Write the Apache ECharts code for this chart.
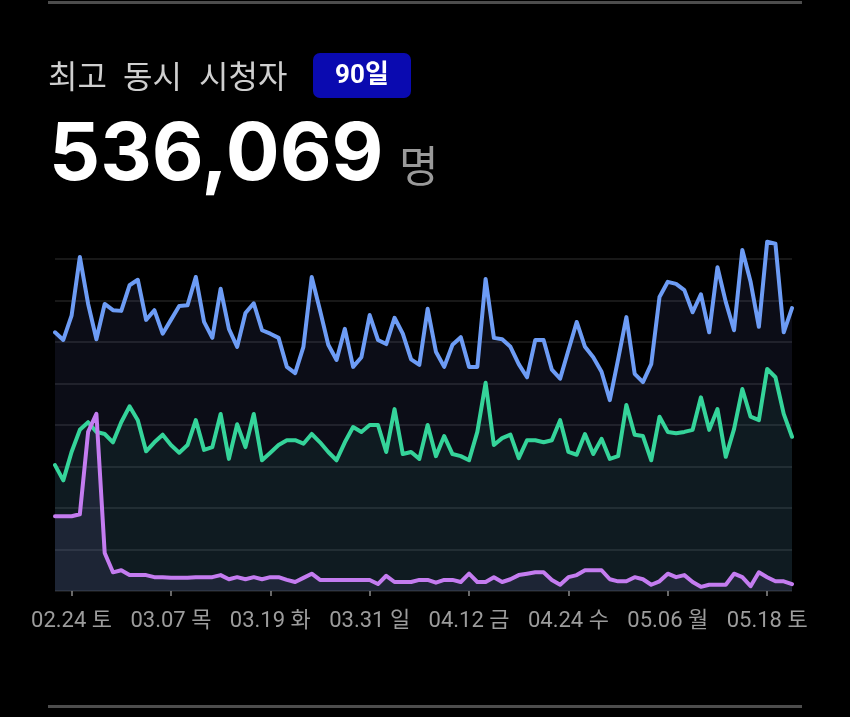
<!DOCTYPE html>
<html>
<head>
<meta charset="utf-8">
<script src="https://cdn.jsdelivr.net/npm/echarts@6/dist/echarts.min.js"></script>
<style>
  html, body { margin: 0; padding: 0; background: #000; }
  #chart { width: 850px; height: 717px; }
</style>
</head>
<body>
<div id="chart"></div>
<script>
// 90 days, 2024-02-22 .. 2024-05-21 (thousand viewers)
const startDate = new Date(2024, 1, 22);
const dayCount = 90;
const weekdays = ['일', '월', '화', '수', '목', '금', '토'];

const blueValues = [374,363,398,483,415,364,415,406,405,442,
  450,392,406,372,392,412,413,454,389,366,
  437,379,353,402,416,377,372,366,324,315,
  353,454,406,356,334,379,324,338,399,363,
  357,395,372,335,327,408,346,324,356,367,
  324,324,451,366,364,353,328,309,363,363,
  320,307,348,389,353,338,317,276,335,396,
  314,302,328,425,447,444,435,403,429,374,
  468,418,377,493,447,382,505,502,374,409];

const greenValues = [182,160,201,233,244,230,227,215,244,267,
  247,202,215,226,211,200,211,247,204,208,
  256,191,241,208,256,189,200,211,218,218,
  213,227,215,201,189,215,237,230,240,240,
  201,263,198,201,191,240,195,224,198,195,
  189,230,301,211,221,226,192,218,218,215,
  218,247,201,197,227,198,220,191,195,269,
  226,224,189,252,230,228,230,233,280,233,
  263,194,234,292,252,247,321,309,256,223];

const purpleValues = [108,108,108,111,230,256,55,27,30,23,
  23,23,20,20,19,19,19,20,20,20,
  23,17,20,17,20,17,20,20,16,13,
  19,25,16,16,16,16,16,16,16,10,
  22,13,13,13,16,16,12,16,16,13,
  25,13,13,20,13,17,23,25,27,27,
  16,9,20,23,30,30,30,17,14,14,
  20,17,9,14,25,20,23,13,6,9,
  9,9,25,20,7,27,20,14,14,10];

// category labels like "02.24 토"
const categories = [];
for (let i = 0; i < dayCount; i++) {
  const d = new Date(startDate.getTime());
  d.setDate(d.getDate() + i);
  const mm = String(d.getMonth() + 1).padStart(2, '0');
  const dd = String(d.getDate()).padStart(2, '0');
  categories.push(mm + '.' + dd + ' ' + weekdays[d.getDay()]);
}

const labelEvery = 12;
const labelOffset = 2; // first label is 02.24
const showLabel = function (index) {
  return index % labelEvery === labelOffset;
};

const uiFont = 'Roboto, "Noto Sans CJK KR", sans-serif';
const krFont = '"Noto Sans CJK KR", sans-serif';

function lineSeries(name, values, lineColor, fillColor) {
  return {
    name: name,
    type: 'line',
    data: values,
    showSymbol: false,
    clip: false,
    lineStyle: { color: lineColor, width: 4, join: 'round', cap: 'round' },
    itemStyle: { color: lineColor },
    areaStyle: { color: fillColor, origin: 'start' },
    animation: false
  };
}

const chart = echarts.init(document.getElementById('chart'));
chart.setOption({
  backgroundColor: '#000',
  grid: { left: 55, right: 58, top: 259, bottom: 126 },
  xAxis: {
    type: 'category',
    data: categories,
    boundaryGap: false,
    axisLine: { show: false },
    axisTick: {
      show: true,
      interval: function (i) { return showLabel(i); },
      length: 5,
      lineStyle: { color: '#8a8a8a', width: 1.5 }
    },
    axisLabel: {
      interval: function (i) { return showLabel(i); },
      color: '#9c9c9c',
      fontSize: 22,
      fontFamily: uiFont,
      margin: 19
    },
    splitLine: { show: false }
  },
  yAxis: {
    type: 'value',
    min: 0,
    max: 480,
    interval: 60,
    axisLabel: { show: false },
    axisLine: { show: false },
    axisTick: { show: false },
    splitLine: { lineStyle: { color: 'rgba(255,255,255,0.13)', width: 1.5 } }
  },
  series: [
    lineSeries('blue', blueValues, '#6d9cf5', 'rgba(95,105,185,0.18)'),
    lineSeries('green', greenValues, '#35d49a', 'rgba(52,211,170,0.10)'),
    lineSeries('purple', purpleValues, '#c47cf0', 'rgba(175,140,255,0.13)')
  ],
  graphic: [
    // separators top and bottom
    { type: 'rect', shape: { x: 48, y: 1, width: 754, height: 3 }, style: { fill: '#4d4d4d' } },
    { type: 'rect', shape: { x: 48, y: 705, width: 754, height: 3 }, style: { fill: '#4d4d4d' } },
    // header
    { type: 'text', x: 48, y: 76, style: { text: '최고', font: '32px ' + krFont, fill: '#cfcfcf', verticalAlign: 'middle' } },
    { type: 'text', x: 123, y: 76, style: { text: '동시', font: '32px ' + krFont, fill: '#cfcfcf', verticalAlign: 'middle' } },
    { type: 'text', x: 199, y: 76, style: { text: '시청자', font: '32px ' + krFont, fill: '#cfcfcf', verticalAlign: 'middle' } },
    { type: 'rect', shape: { x: 313, y: 53, width: 98, height: 45, r: 7 }, style: { fill: '#0a0ab0' } },
    { type: 'text', x: 362, y: 76, style: { text: '90일', font: 'bold 26px ' + uiFont, fill: '#fff', align: 'center', verticalAlign: 'middle' } },
    { type: 'text', x: 49, y: 156, style: { text: '536,069', font: 'bold 80px Inter, Roboto, sans-serif', fill: '#fff', verticalAlign: 'middle' } },
    { type: 'text', x: 399, y: 166, style: { text: '명', font: '43px ' + krFont, fill: '#9a9a9a', verticalAlign: 'middle' } }
  ]
});
</script>
</body>
</html>
